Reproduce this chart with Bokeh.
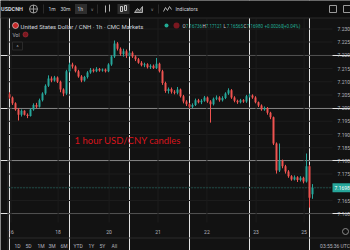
from bokeh.plotting import figure
from bokeh.models import Range1d, ColumnDataSource
from bokeh.core.properties import value
from bokeh.embed import file_html
from bokeh.resources import INLINE

# ---------------- data ----------------
opens = [7.2052, 7.2040, 7.2018, 7.1995, 7.1975, 7.1990, 7.1975, 7.1970, 7.1995, 7.2012,
         7.2005, 7.2030, 7.2055, 7.2085, 7.2112, 7.2105, 7.2116, 7.2100, 7.2070, 7.2055,
         7.2140, 7.2165, 7.2158, 7.2140, 7.2120, 7.2105, 7.2118, 7.2135, 7.2145, 7.2140,
         7.2148, 7.2142, 7.2146, 7.2140, 7.2165, 7.2195, 7.2245, 7.2225, 7.2205, 7.2215,
         7.2200, 7.2210, 7.2195, 7.2185, 7.2172, 7.2162, 7.2166, 7.2155, 7.2160, 7.2152,
         7.2168, 7.2140, 7.2095, 7.2065, 7.2072, 7.2062, 7.2058, 7.2070, 7.2045, 7.2025,
         7.2015, 7.2005, 7.2012, 7.2030, 7.2022, 7.2028, 7.2040, 7.2025, 7.2015, 7.2035,
         7.2040, 7.2030, 7.2038, 7.2055, 7.2068, 7.2040, 7.2028, 7.2022, 7.2030, 7.2025,
         7.2045, 7.2048, 7.2040, 7.2022, 7.2010, 7.1995, 7.2000, 7.1982, 7.1965, 7.1866,
         7.1764, 7.1800, 7.1780, 7.1760, 7.1742, 7.1730, 7.1738, 7.1728, 7.1736, 7.1722,
         7.1780, 7.16736]
highs = [7.2060, 7.2044, 7.2022, 7.2000, 7.1995, 7.1992, 7.1980, 7.2000, 7.2018, 7.2020,
         7.2036, 7.2060, 7.2090, 7.2124, 7.2120, 7.2122, 7.2120, 7.2104, 7.2075, 7.2145,
         7.2172, 7.2172, 7.2162, 7.2145, 7.2125, 7.2122, 7.2140, 7.2152, 7.2150, 7.2155,
         7.2152, 7.2150, 7.2150, 7.2170, 7.2200, 7.2256, 7.2250, 7.2230, 7.2225, 7.2222,
         7.2218, 7.2215, 7.2200, 7.2190, 7.2178, 7.2172, 7.2170, 7.2166, 7.2165, 7.2190,
         7.2172, 7.2145, 7.2100, 7.2078, 7.2078, 7.2068, 7.2080, 7.2074, 7.2050, 7.2030,
         7.2020, 7.2018, 7.2036, 7.2035, 7.2034, 7.2046, 7.2044, 7.2030, 7.2040, 7.2048,
         7.2045, 7.2045, 7.2060, 7.2075, 7.2072, 7.2045, 7.2032, 7.2035, 7.2034, 7.2050,
         7.2055, 7.2052, 7.2045, 7.2025, 7.2014, 7.2006, 7.2004, 7.1986, 7.1968, 7.1870,
         7.1866, 7.1805, 7.1785, 7.1765, 7.1746, 7.1745, 7.1742, 7.1742, 7.1740, 7.1828,
         7.1785, 7.17121]
lows = [7.2035, 7.2012, 7.1990, 7.1953, 7.1968, 7.1972, 7.1962, 7.1968, 7.1990, 7.2000,
        7.2002, 7.2025, 7.2050, 7.2080, 7.2098, 7.2100, 7.2095, 7.2060, 7.2045, 7.2050,
        7.2135, 7.2150, 7.2135, 7.2115, 7.2098, 7.2100, 7.2112, 7.2130, 7.2135, 7.2136,
        7.2138, 7.2138, 7.2135, 7.2136, 7.2160, 7.2190, 7.2218, 7.2198, 7.2195, 7.2190,
        7.2195, 7.2190, 7.2178, 7.2168, 7.2158, 7.2155, 7.2150, 7.2148, 7.2148, 7.2148,
        7.2135, 7.2088, 7.2058, 7.2055, 7.2055, 7.2052, 7.2052, 7.2040, 7.2018, 7.2008,
        7.2000, 7.2000, 7.2008, 7.2018, 7.2015, 7.2024, 7.2020, 7.1945, 7.2010, 7.2030,
        7.2024, 7.2025, 7.2034, 7.2050, 7.2035, 7.2022, 7.2016, 7.2018, 7.2020, 7.2020,
        7.2040, 7.2035, 7.2018, 7.2004, 7.1990, 7.1990, 7.1975, 7.1958, 7.1860, 7.1752,
        7.1758, 7.1772, 7.1752, 7.1736, 7.1725, 7.1726, 7.1720, 7.1722, 7.1715, 7.1718,
        7.1623, 7.16565]
closes = [7.2040, 7.2018, 7.1995, 7.1975, 7.1990, 7.1975, 7.1970, 7.1995, 7.2012, 7.2005,
          7.2030, 7.2055, 7.2085, 7.2112, 7.2105, 7.2116, 7.2100, 7.2070, 7.2055, 7.2140,
          7.2165, 7.2158, 7.2140, 7.2120, 7.2105, 7.2118, 7.2135, 7.2145, 7.2140, 7.2148,
          7.2142, 7.2146, 7.2140, 7.2165, 7.2195, 7.2245, 7.2225, 7.2205, 7.2215, 7.2200,
          7.2210, 7.2195, 7.2185, 7.2172, 7.2162, 7.2166, 7.2155, 7.2160, 7.2152, 7.2168,
          7.2140, 7.2095, 7.2065, 7.2072, 7.2062, 7.2058, 7.2070, 7.2045, 7.2025, 7.2015,
          7.2005, 7.2012, 7.2030, 7.2022, 7.2028, 7.2040, 7.2025, 7.2015, 7.2035, 7.2040,
          7.2030, 7.2038, 7.2055, 7.2068, 7.2040, 7.2028, 7.2022, 7.2030, 7.2025, 7.2045,
          7.2048, 7.2040, 7.2022, 7.2010, 7.1995, 7.2000, 7.1982, 7.1965, 7.1866, 7.1764,
          7.1800, 7.1780, 7.1760, 7.1742, 7.1730, 7.1738, 7.1728, 7.1736, 7.1722, 7.1780,
          7.1660, 7.16980]

price_ticks = [7.160, 7.165, 7.175, 7.180, 7.185, 7.190, 7.195, 7.200,
               7.205, 7.210, 7.215, 7.220, 7.225, 7.230]
price_tick_labels = ["7.160", "7.165", "7.175", "7.180", "7.185", "7.190", "7.195", "7.200",
                     "7.205", "7.210", "7.215", "7.220", "7.225", "7.230"]
grid_prices = [7.160, 7.165, 7.170, 7.175, 7.180, 7.185, 7.190, 7.195, 7.200,
               7.205, 7.210, 7.215, 7.220, 7.225, 7.230, 7.235]
date_labels = ["16", "18", "20", "21", "22", "23", "25"]
date_positions = [0.5, 16.2, 33.2, 49.5, 65.8, 82.2, 98.2]
last_price = 7.16980
last_price_label = "7.1698"
ohlc_letters = ["O", "H", "L", "C"]
ohlc_values = ["7.16736", "7.17121", "7.16565", "7.16980"]
change_texts = ["+0.00260", "(+0.04%)"]
range_buttons = ["1D", "5D", "1M", "3M", "6M", "YTD", "1Y", "5Y", "All"]

# ---------------- pixel helpers for layout ----------------
def X(px):
    return (px - 9.0) / 3.0

def Y(py):
    return 7.190 + (134.0 - py) / 2640.0

PXW = 1.0 / 3.0      # one pixel in x data units
PXH = 1.0 / 2640.0   # one pixel in y data units

BG = "#121212"
TOPBG = "#0e0e0e"
LINE = "#2a2a2a"
GRID = "#1c1c1c"
TXT = "#b2b5be"
WHITE = "#d1d4dc"
UP = "#26a69a"
DOWN = "#ef5350"

p = figure(width=350, height=250, output_backend="svg", toolbar_location=None,
           x_range=Range1d(X(0), X(350)), y_range=Range1d(Y(250), Y(0)),
           min_border=0, x_axis_location=None, y_axis_location=None,
           background_fill_color=BG, border_fill_color=BG, outline_line_color=None)

def txt(xp, yp, s, size, color, align="left", font="Roboto", style="normal"):
    p.text(x=[X(xp)], y=[Y(yp)], text=[s], text_font=value(font),
           text_font_size=f"{size}px", text_color=color, text_align=align,
           text_baseline="middle", text_font_style=style)

def box(x0, y0, x1, y1, fill=None, line=None):
    p.quad(left=[X(x0)], right=[X(x1)], top=[Y(y0)], bottom=[Y(y1)],
           fill_color=fill if fill else BG, fill_alpha=1 if fill else 0,
           line_color=line, line_width=1)

def hline(yp, x0, x1, color=LINE):
    box(x0, yp - 0.5, x1, yp + 0.5, fill=color)

def vline(xp, y0, y1, color=LINE):
    box(xp - 0.5, y0, xp + 0.5, y1, fill=color)

# ---------------- faint grid at the price and date ticks ----------------
n = len(grid_prices)
p.quad(left=[X(8)] * n, right=[X(332)] * n,
       top=[v + 0.5 * PXH for v in grid_prices], bottom=[v - 0.5 * PXH for v in grid_prices],
       fill_color=GRID, line_color=None)
m = len(date_positions)
p.quad(left=[v - 0.5 * PXW for v in date_positions], right=[v + 0.5 * PXW for v in date_positions],
       top=[Y(18)] * m, bottom=[Y(222)] * m, fill_color=GRID, line_color=None)

# current price line
p.line(x=[X(8), X(332)], y=[last_price, last_price],
       line_color=UP, line_width=1, line_dash="1 2", line_alpha=0.7)

# ---------------- candles ----------------
idx = list(range(len(closes)))
colors = [UP if c >= o else DOWN for o, c in zip(opens, closes)]
src = ColumnDataSource(dict(i=idx, o=opens, h=highs, l=lows, c=closes,
                            top=[max(o, c) for o, c in zip(opens, closes)],
                            bottom=[min(o, c) for o, c in zip(opens, closes)],
                            color=colors))
p.segment(x0="i", y0="l", x1="i", y1="h", line_color="color", line_width=1, source=src)
p.vbar(x="i", width=0.66, top="top", bottom="bottom", fill_color="color",
       line_color=None, source=src)

# annotation
txt(74, 140, "1 hour USD/CNY candles", 9.5, "#d8141c", font="Lato")

# ---------------- price scale labels ----------------
p.text(x=[X(337)] * len(price_ticks), y=price_ticks, text=price_tick_labels,
       text_font=value("Roboto"), text_font_size="5px", text_color=TXT,
       text_align="left", text_baseline="middle")
p.quad(left=[X(332)], right=[X(351)], top=[last_price + 4.5 * PXH],
       bottom=[last_price - 4.5 * PXH], fill_color=UP, line_color=None)
p.text(x=[X(334)], y=[last_price], text=[last_price_label], text_font=value("Roboto"),
       text_font_size="5px", text_color="#ffffff", text_align="left", text_baseline="middle")

# ---------------- time scale labels ----------------
p.text(x=date_positions, y=[Y(231)] * len(date_positions), text=date_labels,
       text_font=value("Roboto"), text_font_size="5px", text_color=TXT,
       text_align="center", text_baseline="middle")
p.scatter(x=[X(345)], y=[Y(231)], size=6, marker="circle", fill_alpha=0,
          line_color="#8a8a8a", line_width=1)

# ---------------- top bar ----------------
box(0, 0, 350, 17.5, fill=TOPBG)
hline(17.5, 0, 350)
txt(0.5, 8.5, "USDCNH", 5.5, WHITE, style="bold")
p.scatter(x=[X(33)], y=[Y(8.5)], size=8, marker="circle_cross", fill_alpha=0,
          line_color="#9a9a9a", line_width=1)
vline(43, 4, 13)
txt(48, 8.5, "1m", 5, WHITE)
txt(60, 8.5, "30m", 5, WHITE)
box(74.5, 3.5, 86.5, 13.5, fill="#2e2e2e")
txt(77, 8.5, "1h", 5, WHITE)
txt(90, 8.5, "\u2228", 4.5, "#8a8a8a", font="DejaVu Sans")
vline(97, 4, 13)
vline(105, 5, 12, color="#b0b0b0")
vline(109, 4, 11, color="#b0b0b0")
box(117, 3.5, 129, 13.5, fill="#2e2e2e")
box(120, 6, 122, 11, line="#c8c8c8")
box(124, 5, 126, 10, line="#c8c8c8")
p.patch(x=[X(134), X(137), X(139), X(142), X(142), X(134)],
        y=[Y(12), Y(8), Y(10), Y(6), Y(12), Y(12)], fill_color="#8a8a8a",
        fill_alpha=0.6, line_color="#b0b0b0", line_width=1)
txt(150, 8.5, "\u2228", 4.5, "#8a8a8a", font="DejaVu Sans")
vline(158, 4, 13)
p.line(x=[X(163), X(165), X(167), X(169), X(171)],
       y=[Y(11), Y(7), Y(10), Y(6), Y(9)], line_color="#b0b0b0", line_width=1)
txt(175, 8.5, "Indicators", 5, WHITE)
box(329, 5, 336, 12, line="#9a9a9a")
box(343, 5, 350, 12, line="#9a9a9a")

# ---------------- legend ----------------
p.scatter(x=[X(15)], y=[Y(25)], size=6, marker="circle", fill_color="#c62828",
          line_color="#e8e8e8", line_width=0.6)
txt(20, 25.5, "United States Dollar / CNH \u00b7 1h \u00b7 CMC Markets", 6, WHITE)
p.scatter(x=[X(166)], y=[Y(25)], size=4, marker="circle", fill_color="#22ab94", line_color=None)
p.scatter(x=[X(176)], y=[Y(25)], size=6, marker="circle", fill_color="#7a1820", line_color=None)
ohlc_x = [182, 202, 223, 243]
for xs, let, val in zip(ohlc_x, ohlc_letters, ohlc_values):
    txt(xs, 25.5, let, 4.5, WHITE)
    txt(xs + 3.2, 25.5, val, 4.5, "#22ab94")
txt(264, 25.5, change_texts[0], 4.5, "#22ab94")
txt(282, 25.5, change_texts[1], 4.5, "#22ab94")
txt(12, 34.5, "Vol", 5, TXT)
p.scatter(x=[X(25)], y=[Y(34)], size=5, marker="circle", fill_color="#7a1820",
          line_color="#b0313a", line_width=0.6)
box(12, 41.5, 22, 49.5, line=LINE)
txt(17, 46.5, "^", 5, TXT, align="center")

# ---------------- left strip and bottom bar ----------------
vline(7.5, 17.5, 250)
hline(237.5, 7.5, 350)
range_x = [14, 25, 37, 48, 60, 73, 88, 99, 111]
p.text(x=[X(v) for v in range_x], y=[Y(245)] * len(range_buttons), text=range_buttons,
       text_font=value("Roboto"), text_font_size="5px", text_color=TXT,
       text_align="left", text_baseline="middle")
txt(349.5, 245, "03:55:36 UTC", 5, TXT, align="right")

open("out.html", "w").write(file_html(p, INLINE))
